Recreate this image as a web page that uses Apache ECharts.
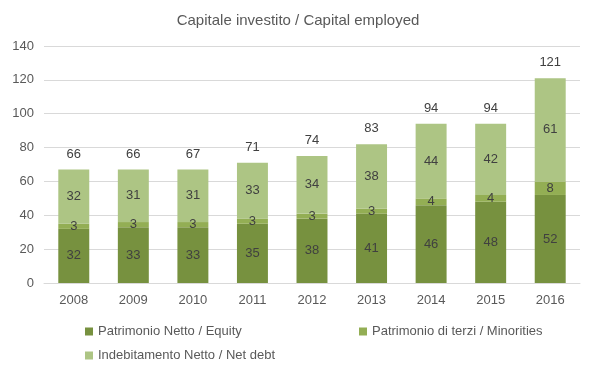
<!DOCTYPE html>
<html><head><meta charset="utf-8">
<script src="https://cdn.jsdelivr.net/npm/echarts@6/dist/echarts.min.js"></script>
<style>html,body{margin:0;padding:0;background:#fff}#c{width:596px;height:371px}</style>
</head><body><div id="c"></div>
<script>
var categories = ['2008','2009','2010','2011','2012','2013','2014','2015','2016'];
var equity = [32,33,33,35,38,41,46,48,52];
var minorities = [3,3,3,3,3,3,4,4,8];
var netDebt = [32,31,31,33,34,38,44,42,61];
var totals = [66,66,67,71,74,83,94,94,121];
var yTicks = [0,20,40,60,80,100,120,140];

var names = ['Patrimonio Netto / Equity','Patrimonio di terzi / Minorities','Indebitamento Netto / Net debt'];
var colors = ['#77913F','#93AE54','#ADC584'];
var font = 'Liberation Sans, Arial, sans-serif';

var chart = echarts.init(document.getElementById('c'));
function seg(i, data){
  return {
    name: names[i], type:'bar', stack:'t', data:data, barWidth:'52%',
    itemStyle:{color:colors[i]},
    label:{show:true, position:'inside', color:'#404040', fontSize:13, fontFamily:font},
    emphasis:{disabled:true}
  };
}
var legendText = {color:'#595959', fontSize:13, fontFamily:font};
chart.setOption({
  animation:false,
  title:{text:'Capitale investito / Capital employed', left:'center', top:8,
    textStyle:{color:'#595959', fontSize:15, fontWeight:'normal', fontFamily:font}},
  grid:{left:44, right:16, top:46, bottom:88},
  legend:[
    {data:[names[0]], left:80, top:320, itemWidth:8, itemHeight:8, itemGap:4, textStyle:legendText, icon:'rect'},
    {data:[names[1]], left:354, top:320, itemWidth:8, itemHeight:8, textStyle:legendText, icon:'rect'},
    {data:[names[2]], left:80, top:344, itemWidth:8, itemHeight:8, textStyle:legendText, icon:'rect'}
  ],
  xAxis:{type:'category', data:categories,
    axisLine:{lineStyle:{color:'#D9D9D9'}}, axisTick:{show:false},
    axisLabel:{color:'#595959', fontSize:13, fontFamily:font, margin:11}},
  yAxis:{type:'value', min:yTicks[0], max:yTicks[yTicks.length-1], interval:20,
    axisLine:{show:false}, axisTick:{show:false},
    splitLine:{lineStyle:{color:'#D9D9D9'}},
    axisLabel:{color:'#595959', fontSize:13, fontFamily:font, margin:10}},
  series:[
    seg(0, equity), seg(1, minorities), seg(2, netDebt),
    {name:'total', type:'bar', stack:'t', data:totals.map(function(){return 0;}), barWidth:'52%',
      itemStyle:{color:'transparent'},
      label:{show:true, position:'top', distance:9, color:'#404040', fontSize:13, fontFamily:font,
        formatter:function(p){return totals[p.dataIndex];}},
      emphasis:{disabled:true}}
  ]
});
</script></body></html>
